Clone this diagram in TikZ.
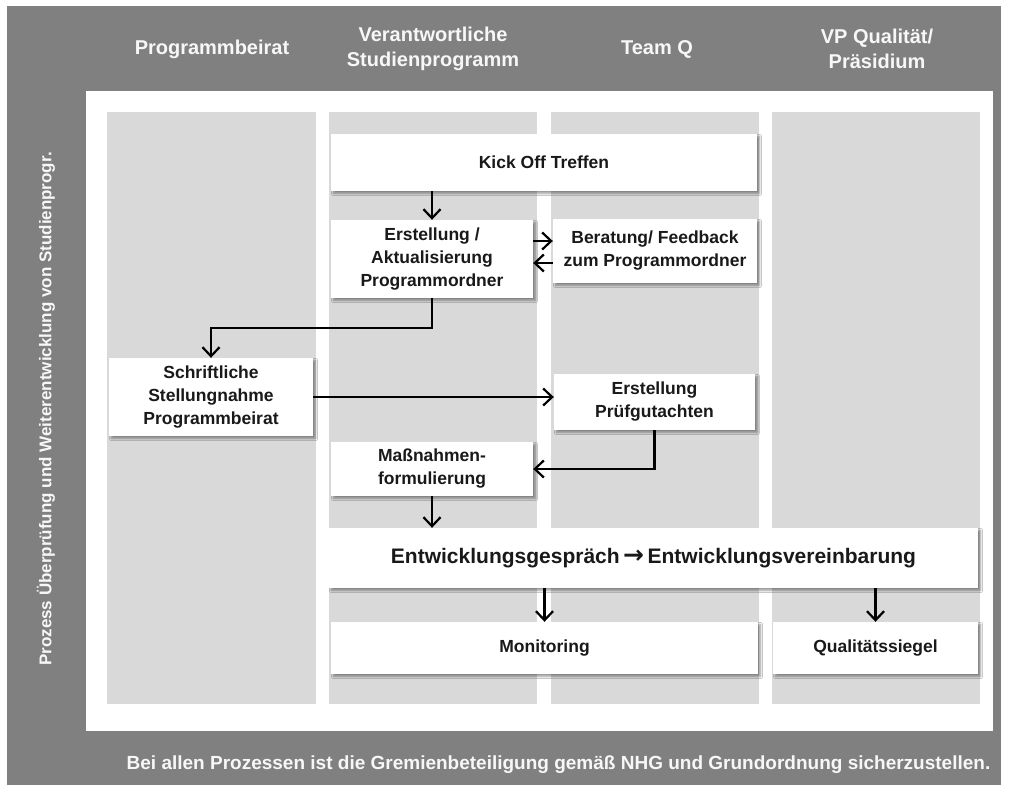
\documentclass[tikz,border=0pt]{standalone}
\usepackage{fontspec}
\setmainfont{Liberation Sans}
\newfontfamily\symfont{DejaVu Sans}
\usetikzlibrary{arrows.meta,shadows.blur}
\definecolor{framegray}{HTML}{808080}
\definecolor{lanegray}{HTML}{D9D9D9}
\definecolor{headtext}{HTML}{F7F7F7}

\begin{document}
\begin{tikzpicture}[
    x=1pt, y=-1pt,
    procbox/.style={fill=white, inner sep=0pt, align=center, text=black!90,
      font=\bfseries\fontsize{17.5}{23}\selectfont,
      blur shadow={shadow xshift=2.5pt, shadow yshift=-2.5pt, shadow blur steps=6}},
    headlabel/.style={align=center, text=headtext, font=\bfseries\fontsize{20}{25}\selectfont},
    flow/.style={draw, line width=2.2pt, -{Straight Barb[length=9pt, width=17pt, line width=2.2pt]}}
  ]
  \useasboundingbox (0,0) rectangle (1009,789);
  % frame, panel and lanes
  \fill[framegray] (7,6) rectangle (1001,785);
  \fill[white] (86,91) rectangle (993,731);
  \foreach \lx/\rx in {107/316, 329/537, 551/759, 772/980}
    \fill[lanegray] (\lx,112) rectangle (\rx,704);

  % lane headers
  \node[headlabel] (beirat) at (212,49) {Programmbeirat};
  \node[headlabel] (verantw) at (433,48.5) {Verantwortliche\\Studienprogramm};
  \node[headlabel] (teamq) at (657,49) {Team Q};
  \node[headlabel] (praesidium) at (877,48.5) {VP Qualität/\\Präsidium};
  \node[headlabel, rotate=90, font=\bfseries\fontsize{17}{20}\selectfont] (prozess) at (46,409)
    {Prozess Überprüfung und Weiterentwicklung von Studienprogr.};
  \node[headlabel, font=\bfseries\fontsize{19}{23}\selectfont] (hinweis) at (558.5,765)
    {Bei allen Prozessen ist die Gremienbeteiligung gemäß NHG und Grundordnung sicherzustellen.};

  % process steps
  \node[procbox, minimum width=426pt, minimum height=57pt] (kickoff) at (544,162.5) {Kick Off Treffen};
  \node[procbox, minimum width=202pt, minimum height=78pt] (erstellung) at (432,259)
    {Erstellung /\\Aktualisierung\\Programmordner};
  \node[procbox, minimum width=204pt, minimum height=64pt] (beratung) at (655,251)
    {Beratung/ Feedback\\zum Programmordner};
  \node[procbox, minimum width=204pt, minimum height=78pt] (stellung) at (211,397)
    {Schriftliche\\Stellungnahme\\Programmbeirat};
  \node[procbox, minimum width=201pt, minimum height=56pt] (pruef) at (654.5,402)
    {Erstellung\\Prüfgutachten};
  \node[procbox, minimum width=202pt, minimum height=54pt] (massnahmen) at (432,469)
    {Maßnahmen-\\formulierung};
  \node[procbox, minimum width=649pt, minimum height=60pt, font=\bfseries\fontsize{21}{25}\selectfont] (entw) at (653.5,558)
    {Entwicklungsgespräch\,{\symfont\bfseries\fontsize{25}{25}\selectfont →}\,Entwicklungsvereinbarung};
  \node[procbox, minimum width=427pt, minimum height=52pt] (monitor) at (544.5,648) {Monitoring};
  \node[procbox, minimum width=205pt, minimum height=52pt] (siegel) at (875.5,648) {Qualitätssiegel};

  % connectors
  \draw[flow] (erstellung.north |- kickoff.south) -- (erstellung.north);
  \draw[flow] (erstellung.east |- 0,241) -- (beratung.west |- 0,241);
  \draw[flow] (beratung.west |- 0,263) -- (erstellung.east |- 0,263);
  \draw[flow] (erstellung.south) -- ++(0,30) -| (stellung.north);
  \draw[flow] (stellung.east) -- (stellung.east -| pruef.west);
  \draw[flow] (pruef.south) |- (massnahmen.east);
  \draw[flow] (massnahmen.south) -- (massnahmen.south |- entw.north);
  \draw[flow] (monitor.north |- entw.south) -- (monitor.north);
  \draw[flow] (siegel.north |- entw.south) -- (siegel.north);
\end{tikzpicture}
\end{document}
